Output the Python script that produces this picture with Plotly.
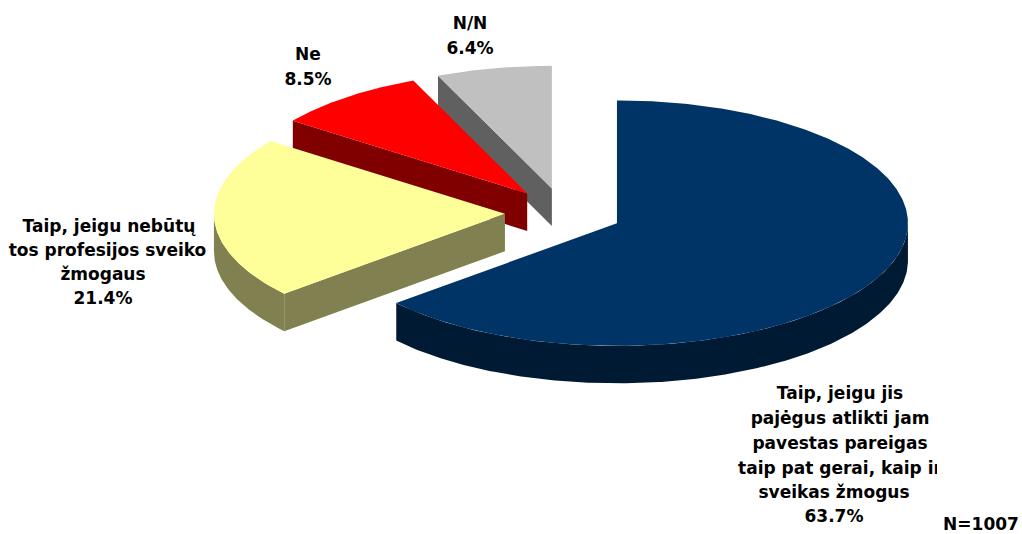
import math
import plotly.graph_objects as go

# ---- data ----
categories = ["Taip, jeigu jis pajėgus", "Taip, jeigu nebūtų", "Ne", "N/N"]
shares = [63.7, 21.4, 8.5, 6.4]
top_colors = ["#003366", "#FFFF99", "#FF0000", "#C0C0C0"]
wall_colors = ["#001A33", "#808050", "#800000", "#606060"]

label_lines = [
    "Taip, jeigu jis", "pajėgus atlikti jam", "pavestas pareigas",
    "taip pat gerai, kaip ir", "sveikas žmogus", "63.7%",
    "Taip, jeigu nebūtų", "tos profesijos sveiko", "žmogaus", "21.4%",
    "Ne", "8.5%", "N/N", "6.4%", "N=1007",
]
label_x = [840, 840, 840, 840, 834, 834, 109, 107.5, 103, 103, 308, 308, 470, 470, 981]
label_y = [395, 420, 445, 470, 494, 518, 228, 252, 276, 300, 56, 81, 25, 50, 526]

# ---- pie geometry (page pixels) ----
CX, CY = 563.6, 212.8
RX, RY = 291.0, 122.7
DEPTH = 37.5
EXPLODE = 58.7


def arc(cx, cy, a0, a1, dy=0.0):
    n = max(2, int(abs(a1 - a0) * 2))
    xs, ys = [], []
    for i in range(n + 1):
        t = math.radians(a0 + (a1 - a0) * i / n)
        xs.append(cx + RX * math.sin(t))
        ys.append(cy - RY * math.cos(t) + dy)
    return xs, ys


fig = go.Figure()


def poly(xs, ys, color):
    fig.add_trace(go.Scatter(
        x=xs + xs[:1], y=ys + ys[:1], mode="lines", fill="toself",
        fillcolor=color, line=dict(width=0, color=color),
        hoverinfo="skip", showlegend=False,
    ))


starts, acc = [], 0.0
for s in shares:
    starts.append(acc)
    acc += s * 3.6

# back to front: last slice first
for i in range(len(shares) - 1, -1, -1):
    a0 = starts[i]
    a1 = a0 + shares[i] * 3.6
    mid = math.radians((a0 + a1) / 2)
    ax = CX + EXPLODE * math.sin(mid)
    ay = CY - EXPLODE * math.cos(mid) * RY / RX
    # straight cut walls turned to the viewer
    for ang, visible in ((a0, math.sin(math.radians(a0)) < -1e-6),
                         (a1, math.sin(math.radians(a1)) > 1e-6)):
        if visible:
            ex, ey = arc(ax, ay, ang, ang + 0.001)
            ex, ey = ex[0], ey[0]
            poly([ax, ex, ex, ax], [ay, ey, ey + DEPTH, ay + DEPTH], wall_colors[i])
    # rim wall, front half only
    w0, w1 = max(a0, 90), min(a1, 270)
    if w1 > w0:
        x1, y1 = arc(ax, ay, w0, w1)
        x2, y2 = arc(ax, ay, w1, w0, DEPTH)
        poly(x1 + x2, y1 + y2, wall_colors[i])
    # top face
    xs, ys = arc(ax, ay, a0, a1)
    poly([ax] + xs, [ay] + ys, top_colors[i])

fig.add_trace(go.Scatter(
    x=label_x, y=label_y, text=label_lines, mode="text",
    textposition="middle center",
    textfont=dict(family="DejaVu Sans", size=17, color="#000000", weight="bold"),
    hoverinfo="skip", showlegend=False, cliponaxis=False,
))

fig.update_layout(
    width=1022, height=534,
    margin=dict(l=0, r=0, t=0, b=0),
    paper_bgcolor="#FFFFFF", plot_bgcolor="#FFFFFF",
    xaxis=dict(range=[0, 1022], visible=False, fixedrange=True),
    yaxis=dict(range=[534, 0], visible=False, fixedrange=True),
    # the reference's data label boxes cut this one line short
    shapes=[dict(type="rect", xref="x", yref="y", x0=937, x1=952, y0=458, y1=484,
                 fillcolor="#FFFFFF", line=dict(width=0), layer="above")],
)

fig.write_html(
    "out.html",
    config={"displayModeBar": False},
    post_script="document.body.style.margin='0';document.body.style.overflow='hidden';",
)
